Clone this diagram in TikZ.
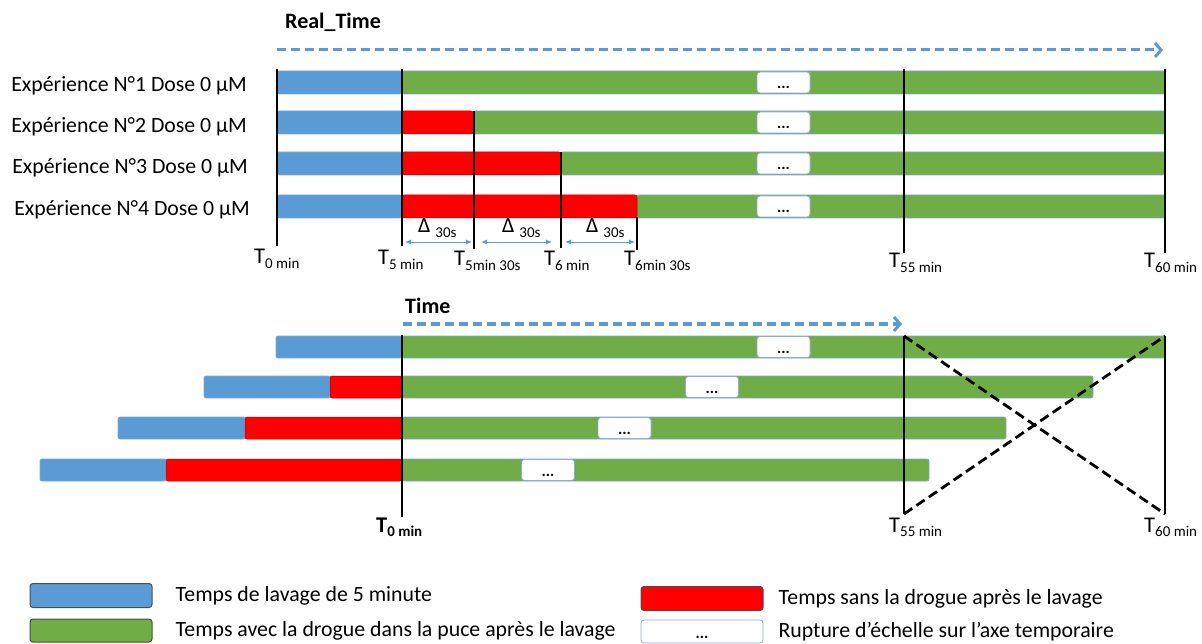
\documentclass[tikz,border=0pt]{standalone}
\usepackage{fontspec}
\setmainfont{Carlito}
\usepackage{xcolor}
\usepackage{tikz}
\usetikzlibrary{
  arrows.meta,
  positioning,
  calc
}
\definecolor{washblue}{HTML}{5B9BD5}
\definecolor{druggreen}{HTML}{70AD47}
\definecolor{nodrugred}{HTML}{FF0000}
\definecolor{barline}{HTML}{7EA6D3}
\definecolor{breakline}{HTML}{8FAADC}
\newcommand\tsub[2]{#1\raisebox{-4.5pt}{\fontsize{15}{15}\selectfont #2}}
\newcommand\dsub[1]{Δ\ \raisebox{-5pt}{\fontsize{15}{15}\selectfont #1}}
\tikzset{
  washbar/.style={
    draw=barline,
    fill=washblue,
    line width=0.7pt,
    rounded corners=2pt,
  },
  drugbar/.style={
    draw=barline,
    fill=druggreen,
    line width=0.7pt,
    rounded corners=2pt,
  },
  nodrugbar/.style={
    draw=red!70!black,
    fill=nodrugred,
    line width=0.5pt,
    rounded corners=2pt,
  },
  breakbox/.style={
    draw=breakline,
    fill=white,
    line width=0.8pt,
    rounded corners=3pt,
    minimum width=53pt,
    minimum height=21pt,
    inner sep=0pt,
    text height=14pt,
    text depth=1pt,
    font=\fontsize{16}{16}\selectfont\bfseries,
  },
  legbox/.style={
    draw=black!70,
    line width=1pt,
    rounded corners=3pt,
    minimum width=122pt,
    minimum height=24pt,
    inner sep=0pt,
  },
  tick/.style={
    line width=2.8pt,
    draw=black,
  },
  timearrow/.style={
    -{Straight Barb[length=6pt,width=14pt,line width=3pt]},
    line width=3pt,
    draw=washblue,
    dash pattern=on 9pt off 5pt,
  },
  deltaarrow/.style={
    {Latex[length=6pt,width=5pt]}-{Latex[length=6pt,width=5pt]},
    line width=0.9pt,
    draw=washblue,
  },
  cross/.style={
    line width=2.8pt,
    draw=black,
    dash pattern=on 10pt off 5pt,
  },
  headtxt/.style={font=\fontsize{22}{22}\selectfont\bfseries, inner sep=0pt},
  rowtxt/.style={font=\fontsize{21.8}{21.8}\selectfont, inner sep=0pt},
  ticktxt/.style={font=\fontsize{22.5}{22.5}\selectfont, inner sep=0pt},
  legtxt/.style={font=\fontsize{21.8}{21.8}\selectfont, inner sep=0pt},
}

\begin{document}
\begin{tikzpicture}[x=1pt, y=-1pt]
  \useasboundingbox (0,0) rectangle (1202,644);

  % Top panel --- real time axis
  \node[headtxt, anchor=base west] (realtime) at (285,29) {Real\_Time};
  \coordinate (rt start) at (277,50);
  \coordinate (rt end)   at (1163,50);
  \draw[timearrow] (rt start) -- (rt end);

  \node[rowtxt, anchor=base east] (exp1) at (247,92)  {Expérience N°1 Dose 0 µM};
  \node[rowtxt, anchor=base east] (exp2) at (247,133) {Expérience N°2 Dose 0 µM};
  \node[rowtxt, anchor=base east] (exp3) at (248,174) {Expérience N°3 Dose 0 µM};
  \node[rowtxt, anchor=base east] (exp4) at (250,216) {Expérience N°4 Dose 0 µM};

  % bars: green, then red, then blue wash
  \foreach \i/\yt/\xr in {1/71/402, 2/111/473, 3/152/561, 4/195/637} {
    \draw[drugbar] (\xr,\yt) rectangle (1165,\yt+23);
    \draw[washbar] (277,\yt) rectangle (402,\yt+23);
    \node[breakbox] (brk\i) at (783.5,\yt+11.5) {...};
  }
  \draw[nodrugbar] (402,111) rectangle (473,134);
  \draw[nodrugbar] (402,152) rectangle (561,175);
  \draw[nodrugbar] (402,195) rectangle (637,218);

  % time marks
  \coordinate (t0a)   at (277,69);  \coordinate (t0b)   at (277,246);
  \coordinate (t5a)   at (402,69);  \coordinate (t5b)   at (402,246);
  \coordinate (t530a) at (474,111); \coordinate (t530b) at (474,249);
  \coordinate (t6a)   at (561,152); \coordinate (t6b)   at (561,248);
  \coordinate (t630a) at (637,217); \coordinate (t630b) at (637,250);
  \coordinate (t55a)  at (904,69);  \coordinate (t55b)  at (904,253);
  \coordinate (t60a)  at (1165,69); \coordinate (t60b)  at (1165,253);
  \foreach \m in {t0,t5,t530,t6,t630,t55,t60}
    \draw[tick] (\m a) -- (\m b);

  \node[ticktxt, anchor=base west] (lt0)   at (254,264) {\tsub{T}{0 min}};
  \node[ticktxt, anchor=base west] (lt5)   at (378,265) {\tsub{T}{5 min}};
  \node[ticktxt, anchor=base west] (lt530) at (454,266) {\tsub{T}{5min 30s}};
  \node[ticktxt, anchor=base west] (lt6)   at (544,266) {\tsub{T}{6 min}};
  \node[ticktxt, anchor=base west] (lt630) at (624,266) {\tsub{T}{6min 30s}};
  \node[ticktxt, anchor=base west] (lt55)  at (889,268) {\tsub{T}{55 min}};
  \node[ticktxt, anchor=base west] (lt60)  at (1144,268) {\tsub{T}{60 min}};

  % 30 s steps
  \coordinate (d1a) at (405,242); \coordinate (d1b) at (472,242);
  \coordinate (d2a) at (481,242); \coordinate (d2b) at (552,242);
  \coordinate (d3a) at (565,242); \coordinate (d3b) at (635,242);
  \draw[deltaarrow] (d1a) -- (d1b);
  \draw[deltaarrow] (d2a) -- (d2b);
  \draw[deltaarrow] (d3a) -- (d3b);
  \node[rowtxt, anchor=base west] (dl1) at (418,233) {\dsub{30s}};
  \node[rowtxt, anchor=base west] (dl2) at (502,233) {\dsub{30s}};
  \node[rowtxt, anchor=base west] (dl3) at (586,233) {\dsub{30s}};

  % Bottom panel --- aligned on end of washing
  \node[headtxt, anchor=base west] (time) at (405,314) {Time};
  \coordinate (tm start) at (403,324);
  \coordinate (tm end)   at (902,324);
  \draw[timearrow] (tm start) -- (tm end);

  \foreach \i/\yt/\xb/\xr/\xg/\xk in {1/336/276/402/1165/783.5, 2/376/204/330/1093/712, 3/417/118/245/1006/624.5, 4/459/40/166/929/548} {
    \draw[drugbar] (402,\yt) rectangle (\xg,\yt+22);
    \draw[washbar] (\xb,\yt) rectangle (\xr,\yt+22);
    \node[breakbox] (bbrk\i) at (\xk,\yt+11) {...};
  }
  \draw[nodrugbar] (330,376) rectangle (402,398);
  \draw[nodrugbar] (245,417) rectangle (402,439);
  \draw[nodrugbar] (166,459) rectangle (402,481);

  \coordinate (b0a)  at (402,335);  \coordinate (b0b)  at (402,517);
  \coordinate (b55a) at (904,336);  \coordinate (b55b) at (904,514);
  \coordinate (b60a) at (1165,336); \coordinate (b60b) at (1165,514);
  \draw[tick] (b0a) -- (b0b);
  \draw[tick] (b55a) -- (b55b);
  \draw[tick] (b60a) -- (b60b);
  \draw[cross] (b55a) -- (b60b);
  \draw[cross] (b55b) -- (b60a);

  \node[ticktxt, anchor=base west, font=\fontsize{22.5}{22.5}\selectfont\bfseries] (lb0) at (376,532) {\tsub{T}{\bfseries 0 min}};
  \node[ticktxt, anchor=base west] (lb55) at (889,532) {\tsub{T}{55 min}};
  \node[ticktxt, anchor=base west] (lb60) at (1144,532) {\tsub{T}{60 min}};

  % Legend
  \node[legbox, fill=washblue] (legwash) at (91,595.5) {};
  \node[legbox, fill=druggreen, minimum height=23pt] (legdrug) at (91,630.5) {};
  \node[legbox, fill=nodrugred] (legnodrug) at (702,598.5) {};
  \node[breakbox, minimum width=122pt, minimum height=23pt] (legbreak) at (702,631.5) {...};
  \node[legtxt, right=23pt of legwash] (lt wash) {Temps de lavage de 5 minute};
  \node[legtxt, right=23pt of legdrug] (lt drug) {Temps avec la drogue dans la puce après le lavage};
  \node[legtxt, right=15pt of legnodrug] (lt nodrug) {Temps sans la drogue après le lavage};
  \node[legtxt, right=15pt of legbreak] (lt break) {Rupture d’échelle sur l’axe temporaire};
\end{tikzpicture}
\end{document}
